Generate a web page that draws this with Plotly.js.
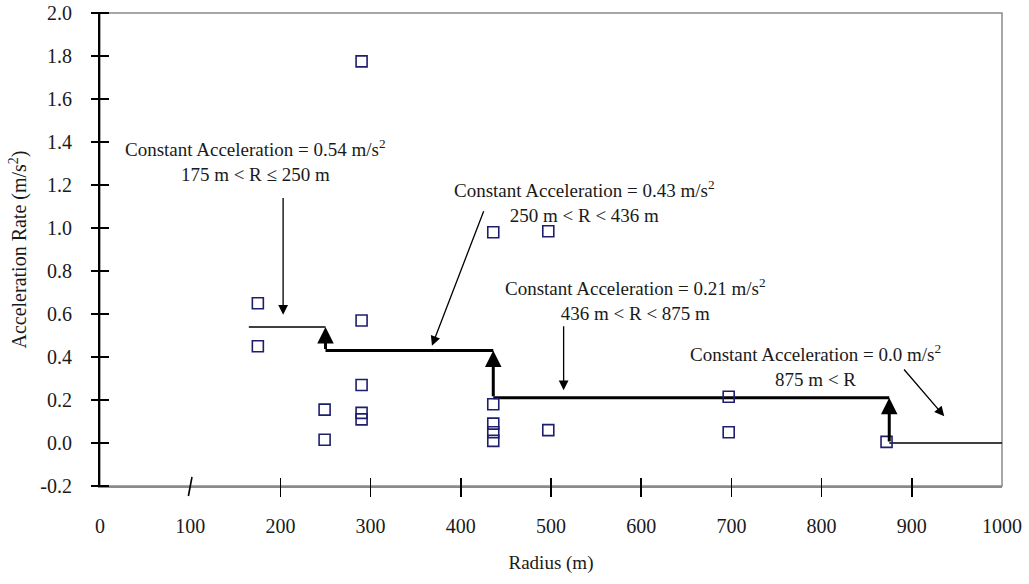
<!DOCTYPE html>
<html>
<head>
<meta charset="utf-8">
<script src="https://cdn.plot.ly/plotly-3.0.1.min.js"></script>
<style>
  html, body { margin: 0; padding: 0; background: #fff; }
  #chart { width: 1029px; height: 584px; }
</style>
</head>
<body>
<div id="chart"></div>
<script>
// Measured acceleration rates against curve radius
const radius = [175, 175, 249, 249, 290, 290, 290, 290, 290, 436, 436, 436, 436, 436, 497, 497, 697, 697, 872];
const accel  = [0.65, 0.45, 0.155, 0.015, 1.775, 0.57, 0.27, 0.14, 0.11, 0.98, 0.18, 0.09, 0.05, 0.01, 0.985, 0.06, 0.215, 0.05, 0.005];

// Constant-acceleration model: radius bands and their rates
const bandEdges = [165, 250, 436, 875, 1000];
const bandRates = [0.54, 0.43, 0.21, 0.0];
const bandRateText = ['0.54', '0.43', '0.21', '0.0'];
const bandRangeText = ['175 m &lt; R ≤ 250 m', '250 m &lt; R &lt; 436 m', '436 m &lt; R &lt; 875 m', '875 m &lt; R'];
const bandLineWidths = [1.5, 3, 3, 1.5];

// Label placement (data units) and pointer tails/heads for each band
const labelX = [172, 537, 594, 793];
const labelY = [1.315, 1.125, 0.667, 0.362];
const pointerTailX = [203, 426, 514, 890];
const pointerTailY = [1.146, 1.085, 0.55, 0.349];
const pointerHeadX = [203, 368, 514, 936];
const pointerHeadY = [0.597, 0.452, 0.245, 0.124];

// Axis ticks
const xTickVals = [0, 100, 200, 300, 400, 500, 600, 700, 800, 900, 1000];
const xTickText = ['0', '100', '200', '300', '400', '500', '600', '700', '800', '900', '1000'];
const xTickMarks = [200, 300, 400, 500, 600, 700, 800, 900];
const yTickVals = [-0.2, 0, 0.2, 0.4, 0.6, 0.8, 1.0, 1.2, 1.4, 1.6, 1.8, 2.0];
const yTickText = ['-0.2', '0.0', '0.2', '0.4', '0.6', '0.8', '1.0', '1.2', '1.4', '1.6', '1.8', '2.0'];

const SERIF = 'Liberation Serif, Times New Roman, serif';
const plotW = 1029 - 100 - 27;
const plotH = 584 - 13 - 98;

const traces = [];

// Horizontal segments of the step model
for (let i = 0; i < bandRates.length; i++) {
  traces.push({
    type: 'scatter', mode: 'lines',
    x: [bandEdges[i], bandEdges[i + 1]],
    y: [bandRates[i], bandRates[i]],
    line: { color: '#000', width: bandLineWidths[i] },
    hoverinfo: 'skip', showlegend: false
  });
}

// Observations
traces.push({
  type: 'scatter', mode: 'markers',
  x: radius, y: accel,
  marker: { symbol: 'square-open', size: 11, color: '#1e1e6e', line: { width: 1.6, color: '#1e1e6e' } },
  showlegend: false
});

// Carrier for the crossing tick axes
traces.push({ type: 'scatter', x: [null], y: [null], xaxis: 'x2', yaxis: 'y2', showlegend: false, hoverinfo: 'skip' });

const annotations = [];

// Text labels
for (let i = 0; i < bandRates.length; i++) {
  annotations.push({
    xref: 'x', yref: 'y', x: labelX[i], y: labelY[i],
    text: 'Constant Acceleration = ' + bandRateText[i] + ' m/s<sup>2</sup><br>' + bandRangeText[i],
    showarrow: false, align: 'center',
    font: { family: SERIF, size: 19, color: '#1a1a1a' }
  });
  // Thin pointer from the label toward its band
  annotations.push({
    xref: 'x', yref: 'y', axref: 'x', ayref: 'y',
    x: pointerHeadX[i], y: pointerHeadY[i],
    ax: pointerTailX[i], ay: pointerTailY[i],
    text: '', showarrow: true, arrowhead: 2, arrowsize: 1.5, arrowwidth: 1.3,
    arrowcolor: '#000', standoff: 0, startstandoff: 0
  });
}

// Thick upward arrows at each band boundary
for (let i = 1; i < bandRates.length; i++) {
  annotations.push({
    xref: 'x', yref: 'y', axref: 'x', ayref: 'y',
    x: bandEdges[i], y: bandRates[i - 1],
    ax: bandEdges[i], ay: bandRates[i],
    text: '', showarrow: true, arrowhead: 2, arrowsize: 1.1, arrowwidth: 3,
    arrowcolor: '#000', standoff: 0, startstandoff: 0
  });
}

const shapes = [
  // Plot frame (top and right edges)
  { type: 'rect', xref: 'paper', yref: 'paper', x0: 0, x1: 1, y0: 0, y1: 1,
    line: { color: '#8a8a8a', width: 1.5 }, layer: 'below' },
  // Slanted break tick at 100
  { type: 'line', xref: 'x', yref: 'paper', x0: 98, x1: 102, y0: -10 / plotH, y1: 9 / plotH,
    line: { color: '#000', width: 1.6 } }
];

const layout = {
  width: 1029, height: 584,
  margin: { l: 100, r: 27, t: 13, b: 98 },
  paper_bgcolor: '#fff', plot_bgcolor: '#fff',
  showlegend: false,
  xaxis: {
    range: [0, 1000], tickvals: xTickVals, ticktext: xTickText,
    ticks: '', showgrid: false, zeroline: false,
    showline: true, linecolor: '#8a8a8a', linewidth: 1.5,
    tickfont: { family: SERIF, size: 20, color: '#1a1a1a' },
    ticklabelstandoff: 21,
    title: { text: 'Radius (m)', font: { family: SERIF, size: 19, color: '#1a1a1a' }, standoff: 20 }
  },
  yaxis: {
    range: [-0.2, 2.0], tickvals: yTickVals, ticktext: yTickText,
    ticks: '', showgrid: false, zeroline: false,
    showline: true, linecolor: '#000', linewidth: 2,
    tickfont: { family: SERIF, size: 20, color: '#1a1a1a' },
    ticklabelstandoff: 22,
    title: { text: 'Acceleration Rate (m/s<sup>2</sup>)', font: { family: SERIF, size: 20, color: '#1a1a1a' }, standoff: 8 }
  },
  xaxis2: {
    overlaying: 'x', anchor: 'free', position: 9 / plotH, side: 'bottom',
    range: [0, 1000], tickvals: xTickMarks, ticks: 'outside', ticklen: 19,
    tickwidth: 1.6, tickcolor: '#000',
    showticklabels: false, showline: false, showgrid: false, zeroline: false
  },
  yaxis2: {
    overlaying: 'y', anchor: 'free', position: 9 / plotW, side: 'left',
    range: [-0.2, 2.0], tickvals: yTickVals, ticks: 'outside', ticklen: 18,
    tickwidth: 1.6, tickcolor: '#000',
    showticklabels: false, showline: false, showgrid: false, zeroline: false
  },
  annotations: annotations,
  shapes: shapes
};

Plotly.newPlot('chart', traces, layout, { displayModeBar: false, staticPlot: true });
</script>
</body>
</html>
